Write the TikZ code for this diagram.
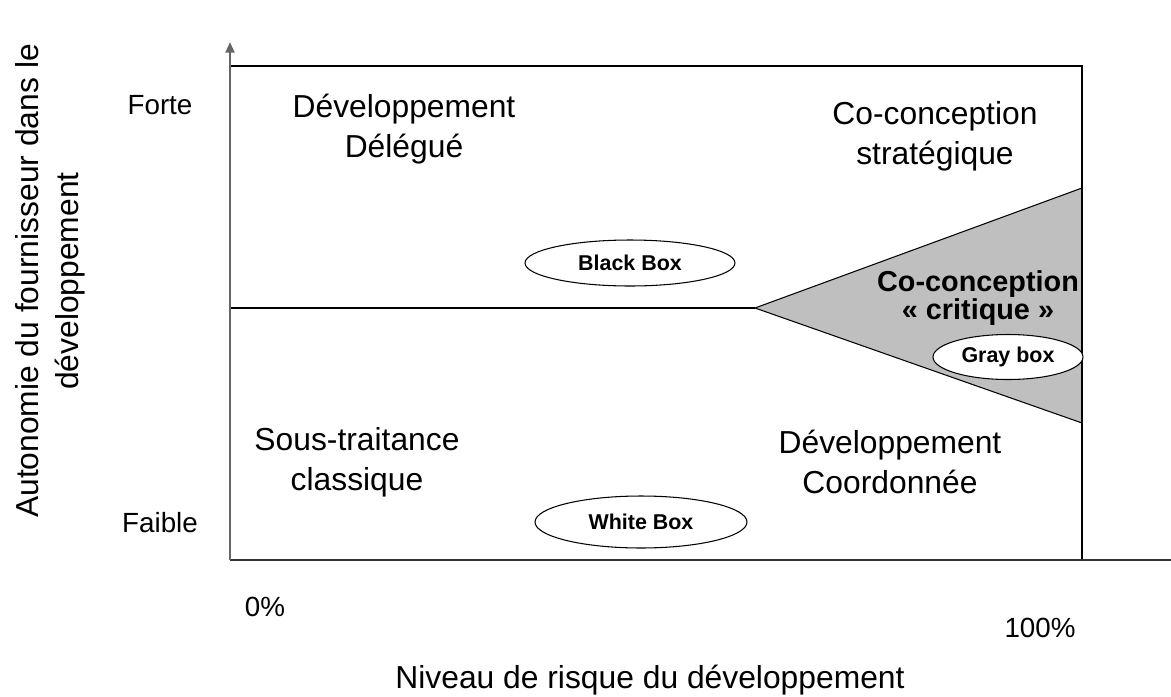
\documentclass[tikz,border=0pt]{standalone}
\usepackage{fontspec}
\setmainfont{Liberation Sans}
\usetikzlibrary{shapes.geometric,arrows.meta}

\begin{document}
\begin{tikzpicture}[x=0.02cm,y=-0.02cm,
  lab/.style={align=center,font=\fontsize{18.1}{22.7}\selectfont},
  tick/.style={font=\fontsize{15.8}{19}\selectfont},
  boxe/.style={draw,ellipse,fill=white,line width=0.6pt,inner sep=0pt,font=\bfseries\fontsize{12.2}{14}\selectfont},
  axe/.style={line width=1.5pt}]
\path[fill=white,use as bounding box] (0,0) rectangle (1171,697);
% corners and axis ends
\coordinate (O) at (230,560);
\coordinate (top) at (230,42);
\coordinate (xend) at (1171,560);
\coordinate (tl) at (230,66);
\coordinate (tr) at (1082,66);
\coordinate (br) at (1082,560);
\coordinate (ml) at (230,308);
\coordinate (apex) at (755,308);
\coordinate (tu) at (1082,188);
\coordinate (td) at (1082,423);
% gray zone
\filldraw[fill=gray!50,line width=0.6pt] (apex) -- (tu) -- (td) -- cycle;
\draw[axe] (tl) -- (tr) -- (br);
\draw[axe] (ml) -- (apex);
\draw[axe,black!80] (O) -- (xend);
\draw[line width=1.3pt,black!60,-{Triangle[length=6pt,width=5pt]}] (O) -- (top);
% labels
\node[tick] (forte) at (160,105) {Forte};
\node[tick] (faible) at (160,523) {Faible};
\node[lab] (deleg) at (404,129) {Développement\\Délégué};
\node[lab] (strat) at (935,136) {Co-conception\\stratégique};
\node[lab] (soustrait) at (357,462) {Sous-traitance\\classique};
\node[lab] (coord) at (890,462) {Développement\\Coordonnée};
\node[align=center,font=\bfseries\fontsize{16.4}{13.8}\selectfont] (critique) at (978,298) {Co-conception\\« critique »};
\node[boxe,minimum width=4.2cm,minimum height=0.92cm] (blackbox) at (630,263) {Black Box};
\node[boxe,minimum width=3cm,minimum height=0.9cm] (graybox) at (1008,357) {Gray box};
\node[boxe,minimum width=4.24cm,minimum height=1.04cm] (whitebox) at (641,522) {White Box};
\node[tick] (zero) at (265,607) {0\%};
\node[tick] (cent) at (1040,628) {100\%};
\node[lab] (xlabel) at (650,680) {Niveau de risque du développement};
\node[lab,rotate=90] (ylabel) at (50,281) {Autonomie du fournisseur dans le\\développement};
\end{tikzpicture}
\end{document}
